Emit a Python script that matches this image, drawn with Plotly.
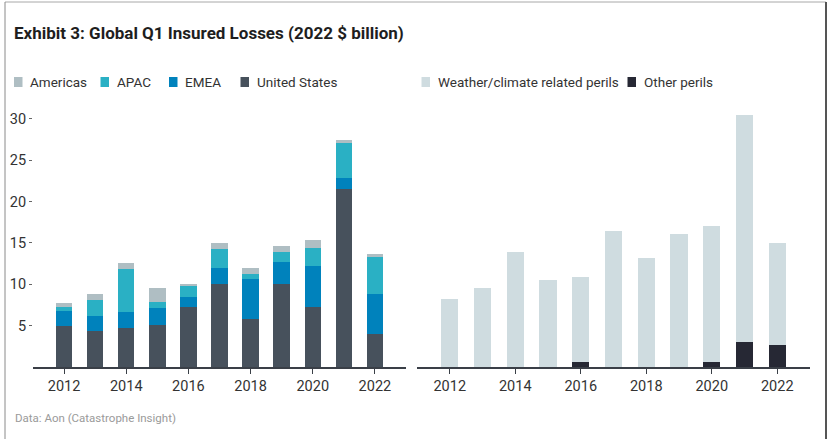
import plotly.graph_objects as go

# ---- data ----
years = list(range(2012, 2023))
us       = [4.9, 4.35, 4.7, 5.1, 7.2, 10.0, 5.8, 10.0, 7.3, 21.5, 3.95]
emea     = [1.9, 1.85, 1.9, 2.05, 1.3, 2.0, 4.9, 2.75, 4.9, 1.3, 4.9]
apac     = [0.5, 1.9, 5.25, 0.75, 1.35, 2.25, 0.55, 1.15, 2.25, 4.3, 4.5]
americas = [0.4, 0.7, 0.7, 1.65, 0.2, 0.75, 0.75, 0.75, 0.9, 0.4, 0.3]

other    = [0.0, 0.0, 0.0, 0.0, 0.6, 0.0, 0.0, 0.0, 0.6, 3.0, 2.65]
weather  = [8.25, 9.6, 13.85, 10.5, 10.3, 16.5, 13.15, 16.1, 16.45, 27.5, 12.3]

title = "Exhibit 3: Global Q1 Insured Losses (2022 $ billion)"
source = "Data: Aon (Catastrophe Insight)"
left_names = ["Americas", "APAC", "EMEA", "United States"]
left_colors = ["#AFBEC3", "#2AB0C4", "#0082BC", "#47515C"]
right_names = ["Weather/climate related perils", "Other perils"]
right_colors = ["#CFDCE0", "#262834"]
yticks = [5, 10, 15, 20, 25, 30]

W, H = 830, 439
FONT = "Roboto, Liberation Sans, sans-serif"

def px(x):
    return x / W

def py(y):
    return 1 - y / H

fig = go.Figure()

# left stacked bars (bottom to top)
for name, vals, col in [("United States", us, left_colors[3]),
                        ("EMEA", emea, left_colors[2]),
                        ("APAC", apac, left_colors[1]),
                        ("Americas", americas, left_colors[0])]:
    fig.add_trace(go.Bar(x=years, y=vals, name=name, marker_color=col,
                         marker_line_width=0, showlegend=False,
                         xaxis="x", yaxis="y"))

for name, vals, col in [("Other perils", other, right_colors[1]),
                        ("Weather/climate related perils", weather, right_colors[0])]:
    fig.add_trace(go.Bar(x=years, y=vals, name=name, marker_color=col,
                         marker_line_width=0, showlegend=False,
                         xaxis="x2", yaxis="y2"))

ydom = [py(367), py(367 - 31 * 8.27)]
axis_common = dict(
    range=[2011, 2023], tickmode="array", tickvals=years[::2],
    ticktext=[str(y) for y in years[::2]],
    showline=True, linecolor="#3A3F47", linewidth=1.5,
    ticks="outside", ticklen=5, tickcolor="#3A3F47", tickwidth=1,
    showgrid=False, zeroline=False,
    tickfont=dict(family=FONT, size=14.5, color="#333"),
    automargin=False, fixedrange=True,
)
fig.update_layout(
    width=W, height=H,
    margin=dict(l=0, r=0, t=0, b=0),
    paper_bgcolor="white", plot_bgcolor="white",
    barmode="stack", bargap=0.47,
    font=dict(family=FONT, color="#333"),
    xaxis=dict(domain=[px(33), px(406)], anchor="y", **axis_common),
    xaxis2=dict(domain=[px(417), px(810)], anchor="y2", **axis_common),
    yaxis=dict(domain=ydom, range=[0, 31], tickvals=yticks,
               ticks="outside", ticklen=3, tickcolor="#666",
               showline=False, showgrid=False, zeroline=False,
               tickfont=dict(family=FONT, size=14.5, color="#333"),
               automargin=False, anchor="x", fixedrange=True),
    yaxis2=dict(domain=ydom, range=[0, 31], showticklabels=False,
                showline=False, showgrid=False, zeroline=False,
                ticks="", anchor="x2", automargin=False, fixedrange=True),
)

ann = []
shapes = []
ann.append(dict(text="<b>" + title + "</b>", x=px(12), y=py(33), xref="paper", yref="paper",
                xanchor="left", yanchor="middle", showarrow=False,
                font=dict(family=FONT, size=17, color="#1E1E1E")))
ann.append(dict(text=source, x=px(13), y=py(418), xref="paper", yref="paper",
                xanchor="left", yanchor="middle", showarrow=False,
                font=dict(family=FONT, size=11.5, color="#9A9A9A")))

# legends
leg_y = 82
left_sq_x = [14, 100.5, 169, 240.5]
right_sq_x = [421.5, 627.5]
for names, cols, xs in [(left_names, left_colors, left_sq_x), (right_names, right_colors, right_sq_x)]:
    for n, c, x0 in zip(names, cols, xs):
        shapes.append(dict(type="rect", xref="paper", yref="paper",
                           x0=px(x0), x1=px(x0 + 8.5), y0=py(leg_y - 5), y1=py(leg_y + 5),
                           fillcolor=c, line=dict(width=0)))
        ann.append(dict(text=n, x=px(x0 + 14), y=py(leg_y), xref="paper", yref="paper",
                        xanchor="left", yanchor="middle", showarrow=False,
                        font=dict(family=FONT, size=13.5, color="#333")))

# frame
shapes.append(dict(type="line", xref="paper", yref="paper", x0=px(5), x1=px(826),
                   y0=py(2), y1=py(2), line=dict(color="#A8A8A8", width=1)))
shapes.append(dict(type="line", xref="paper", yref="paper", x0=px(5), x1=px(5),
                   y0=py(2), y1=py(439), line=dict(color="#8A8A8A", width=1)))
shapes.append(dict(type="line", xref="paper", yref="paper", x0=px(826), x1=px(826),
                   y0=py(2), y1=py(439), line=dict(color="#555", width=2)))

fig.update_layout(annotations=ann, shapes=shapes)
fig.write_html("out.html", config={"displayModeBar": False},
               post_script="document.body.style.margin='0';")
